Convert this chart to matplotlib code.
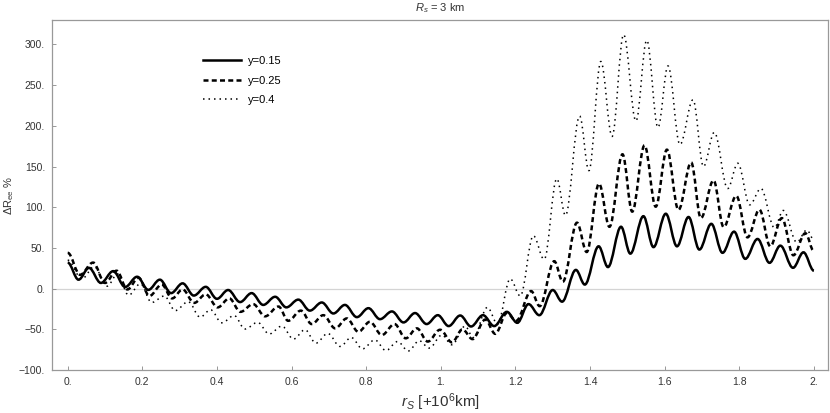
import matplotlib
matplotlib.use("Agg")
import matplotlib.pyplot as plt
from matplotlib.path import Path
from matplotlib.patches import PathPatch
from matplotlib.lines import Line2D

plt.rcParams['font.family'] = ['Liberation Sans', 'DejaVu Sans']
plt.rcParams['mathtext.fontset'] = 'custom'
plt.rcParams['mathtext.rm'] = 'Liberation Sans'
plt.rcParams['mathtext.it'] = 'Liberation Sans:italic'

# turning points of each curve (x in 10^6 km, y in %)
x_015 = [0.0, 0.029, 0.057, 0.089, 0.122, 0.154, 0.186, 0.216, 0.247, 0.277,
         0.308, 0.338, 0.37, 0.40, 0.43, 0.462, 0.493, 0.524, 0.556, 0.586,
         0.618, 0.649, 0.681, 0.712, 0.743, 0.775, 0.806, 0.837, 0.869, 0.90,
         0.931, 0.962, 0.992, 1.021, 1.052, 1.081, 1.113, 1.143, 1.177, 1.205,
         1.235, 1.264, 1.30, 1.325, 1.362, 1.386, 1.423, 1.448, 1.483, 1.508,
         1.543, 1.57, 1.603, 1.633, 1.664, 1.693, 1.725, 1.755, 1.786, 1.816,
         1.849, 1.881, 1.91, 1.944, 1.972, 2.0]
y_015 = [32, 11, 25.5, 7, 21.5, 2, 14.6, -1.5, 11, -5.5,
         6.5, -8.5, 2.2, -12.5, -1.7, -16.5, -5.5, -20, -10, -23,
         -13.5, -27, -17, -30.5, -20, -35, -24, -37.5, -28, -41.5,
         -30, -43.5, -32.6, -46, -33, -46.5, -32.6, -46, -28.5, -42,
         -19, -32.6, -1.7, -16, 23, 5, 52, 26.5, 76, 43,
         89, 51, 92, 52, 88, 48, 79.6, 44, 70, 36.6,
         61, 31.7, 52.8, 25.6, 44.6, 22]

x_025 = [0.0, 0.033, 0.068, 0.1, 0.131, 0.16, 0.19, 0.219, 0.252, 0.28,
         0.308, 0.339, 0.37, 0.402, 0.433, 0.463, 0.497, 0.529, 0.565, 0.591,
         0.625, 0.654, 0.685, 0.717, 0.748, 0.779, 0.81, 0.842, 0.876, 0.906,
         0.936, 0.965, 0.998, 1.03, 1.058, 1.085, 1.119, 1.146, 1.177, 1.202,
         1.242, 1.265, 1.304, 1.327, 1.365, 1.391, 1.424, 1.452, 1.487, 1.513,
         1.546, 1.576, 1.606, 1.637, 1.671, 1.697, 1.731, 1.758, 1.792, 1.822,
         1.854, 1.883, 1.914, 1.945, 1.977, 2.0]
y_025 = [44, 17, 32, 7, 22, -1, 13.4, -9, 5, -12,
         -1, -17.5, -7, -23, -12, -28.5, -19, -34, -22, -39.5,
         -27, -43.5, -32.6, -48.8, -36.6, -53, -40.7, -57, -43.5, -61,
         -48.8, -65, -50.5, -66, -50, -62, -38, -55.5, -30, -39.5,
         -3, -21.5, 33.7, 8.5, 81, 45, 129, 76, 165, 94.6,
         176, 100.7, 170.7, 96.7, 155, 86.6, 133, 75.6, 114, 63,
         97, 52, 86.6, 41, 68, 46]

x_04 = [0.0, 0.038, 0.071, 0.105, 0.134, 0.163, 0.195, 0.225, 0.259, 0.288,
        0.323, 0.355, 0.383, 0.413, 0.446, 0.475, 0.509, 0.54, 0.574, 0.605,
        0.636, 0.665, 0.697, 0.73, 0.76, 0.79, 0.823, 0.853, 0.884, 0.913,
        0.942, 0.969, 1.003, 1.03, 1.065, 1.087, 1.125, 1.152, 1.186, 1.213,
        1.248, 1.277, 1.311, 1.334, 1.372, 1.397, 1.429, 1.459, 1.49, 1.523,
        1.552, 1.582, 1.609, 1.641, 1.676, 1.704, 1.733, 1.769, 1.796, 1.828,
        1.858, 1.894, 1.918, 1.954, 1.981, 2.0]
y_04 = [35, 12, 27, 3, 18, -8, 6, -17, -9, -27,
        -16, -35, -26, -42, -33, -49.6, -41.5, -55.7, -46, -62,
        -50.5, -67, -55, -71, -60, -74, -63, -76, -65, -76.5,
        -64, -73, -57, -69, -46, -60, -23, -43.5, 12, -9,
        65, 36, 135, 90, 212, 145, 279, 187, 312, 206,
        305, 198, 273.5, 177, 232, 150, 192, 123, 154, 103,
        123, 75, 96, 57, 72, 60]

labels = ['y=0.15', 'y=0.25', 'y=0.4']
x_ticks = [0, 0.2, 0.4, 0.6, 0.8, 1.0, 1.2, 1.4, 1.6, 1.8, 2.0]
x_tick_labels = ['0.', '0.2', '0.4', '0.6', '0.8', '1.', '1.2', '1.4', '1.6', '1.8', '2.']
y_ticks = [-100, -50, 0, 50, 100, 150, 200, 250, 300]
y_tick_labels = ['\u2212100.', '\u221250.', '0.', '50.', '100.', '150.', '200.', '250.', '300.']


def smooth_path(xs, ys, k=0.36):
    # cubic segments between turning points, flat tangents at each one
    verts = [(xs[0], ys[0])]
    codes = [Path.MOVETO]
    for i in range(1, len(xs)):
        dx = xs[i] - xs[i - 1]
        verts += [(xs[i - 1] + k * dx, ys[i - 1]), (xs[i] - k * dx, ys[i]), (xs[i], ys[i])]
        codes += [Path.CURVE4] * 3
    return Path(verts, codes)


styles = [
    dict(color='black', lw=1.8, ls='-'),
    dict(color='black', lw=1.8, ls=(0, (2.0, 1.3))),
    dict(color='black', lw=1.1, ls=(0, (1.0, 2.6))),
]

fig = plt.figure(figsize=(8.3, 4.13), dpi=100)
ax = fig.add_axes([0.0627, 0.104, 0.935, 0.8476])

ax.axhline(0, color='#d4d4d4', lw=0.9, zorder=1)

for xs, ys, st in zip([x_015, x_025, x_04], [y_015, y_025, y_04], styles):
    p = PathPatch(smooth_path(xs, ys), fill=False, edgecolor=st['color'],
                  lw=st['lw'], ls=st['ls'], capstyle='butt', zorder=3)
    ax.add_patch(p)

handles = [Line2D([], [], **st) for st in styles]
ax.legend(handles, labels, loc='upper left', bbox_to_anchor=(0.182, 0.925),
          frameon=False, fontsize=8, handlelength=3.4, labelspacing=0.85,
          handletextpad=0.6)

ax.set_xlim(-0.042, 2.038)
ax.set_ylim(-100, 330)
ax.set_xticks(x_ticks)
ax.set_xticklabels(x_tick_labels)
ax.set_yticks(y_ticks)
ax.set_yticklabels(y_tick_labels)
ax.tick_params(which='major', direction='in', length=3, width=0.6, color='#888888',
               labelsize=7.5, labelcolor='#333333', pad=5)
for s in ax.spines.values():
    s.set_color('#999999')
    s.set_linewidth(0.9)

ax.set_title('$R_s$ = 3 km', fontsize=8, color='#333333', pad=6)
ax.set_xlabel('$r_S$ [+10$^6$km]', fontsize=11, color='#333333', labelpad=3)
ax.set_ylabel('\u0394R$_{\\mathrm{ee}}$ %', fontsize=8, color='#333333', labelpad=2)

fig.savefig('out.png', dpi=100)
